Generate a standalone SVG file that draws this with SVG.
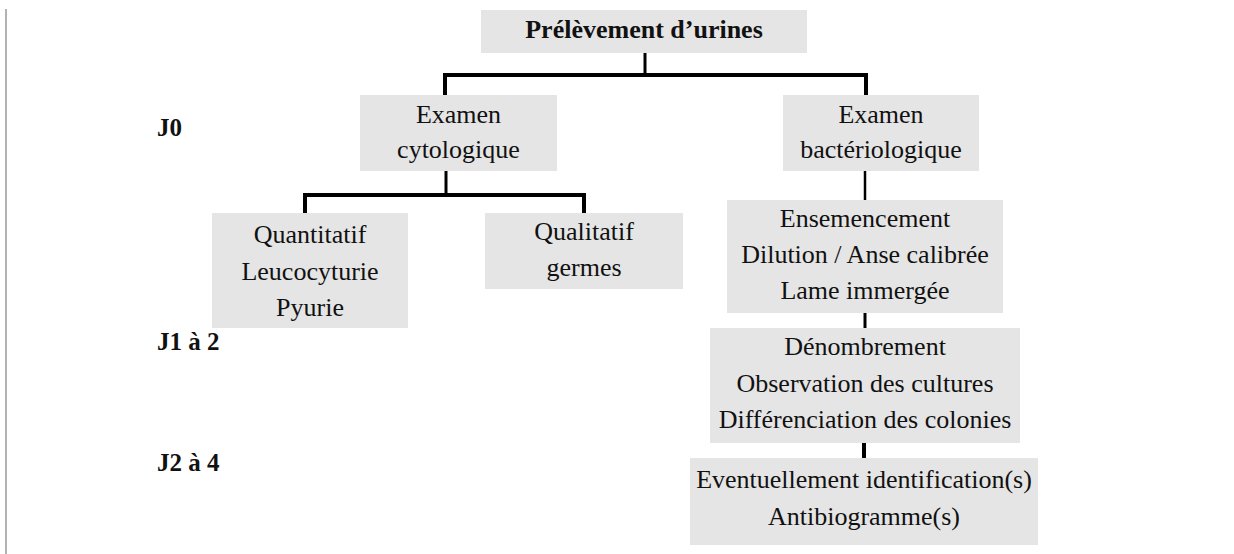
<svg xmlns="http://www.w3.org/2000/svg" width="1234" height="554" viewBox="0 0 1234 554">
<style>
.box{fill:#e5e5e5;}
.t{font-size:26px;fill:#111;text-anchor:middle;}
.b{font-weight:bold;}
.lbl{font-size:25px;font-weight:bold;fill:#111;}
.c{fill:none;stroke:#000;stroke-linecap:butt;stroke-linejoin:miter;}
</style>
<rect width="1234" height="554" fill="#fff"/>
<line x1="6" y1="9" x2="6" y2="554" stroke="#999" stroke-width="1.5"/>

<g font-family="Liberation Serif, Times New Roman, Times, serif">
<g id="labels">
<text class="lbl" x="157" y="136">J0</text>
<text class="lbl" x="157" y="350">J1 à 2</text>
<text class="lbl" x="157" y="471">J2 à 4</text>
</g>

<g id="connectors">
<path class="c" d="M645,53 V75" stroke-width="3"/>
<path class="c" d="M445,96 V75 H866 V96" stroke-width="4"/>
<path class="c" d="M446,171 V195" stroke-width="3"/>
<path class="c" d="M305,213 V195 H584 V213" stroke-width="4"/>
<path class="c" d="M865,171 V200" stroke-width="2.5"/>
<path class="c" d="M865,313 V328" stroke-width="3"/>
<path class="c" d="M864,443 V458" stroke-width="4"/>
</g>

<g id="n-prelevement">
<rect class="box" x="481" y="10" width="326" height="43"/>
<text class="t b" x="644" y="38">Prélèvement d’urines</text>
</g>

<g id="n-cyto">
<rect class="box" x="360" y="95" width="197" height="76"/>
<text class="t" x="458.5" y="123">Examen</text>
<text class="t" x="458.5" y="158">cytologique</text>
</g>

<g id="n-bacterio">
<rect class="box" x="783" y="95" width="196" height="76"/>
<text class="t" x="881" y="123">Examen</text>
<text class="t" x="881" y="158">bactériologique</text>
</g>

<g id="n-quanti">
<rect class="box" x="212" y="213" width="196" height="115"/>
<text class="t" x="310" y="243">Quantitatif</text>
<text class="t" x="310" y="280">Leucocyturie</text>
<text class="t" x="310" y="316">Pyurie</text>
</g>

<g id="n-quali">
<rect class="box" x="485" y="213" width="198" height="76"/>
<text class="t" x="584" y="240">Qualitatif</text>
<text class="t" x="584" y="276">germes</text>
</g>

<g id="n-ensemencement">
<rect class="box" x="727" y="200" width="276" height="113"/>
<text class="t" x="865" y="227">Ensemencement</text>
<text class="t" x="865" y="263">Dilution / Anse calibrée</text>
<text class="t" x="865" y="299">Lame immergée</text>
</g>

<g id="n-denombrement">
<rect class="box" x="710" y="328" width="310" height="115"/>
<text class="t" x="865" y="355">Dénombrement</text>
<text class="t" x="865" y="392">Observation des cultures</text>
<text class="t" x="865" y="428">Différenciation des colonies</text>
</g>

<g id="n-identification">
<rect class="box" x="690" y="458" width="348" height="87"/>
<text class="t" x="864" y="488">Eventuellement identification(s)</text>
<text class="t" x="864" y="525">Antibiogramme(s)</text>
</g>
</g>
</svg>
